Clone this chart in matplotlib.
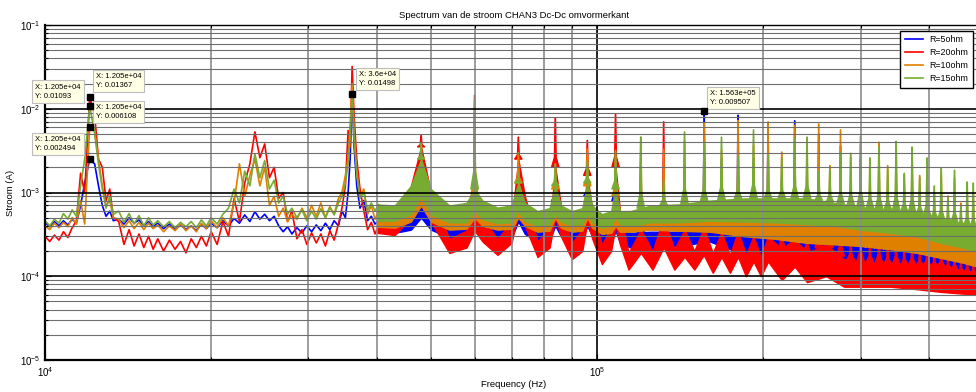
import matplotlib
matplotlib.use("Agg")
import matplotlib.pyplot as plt
from matplotlib.lines import Line2D
from matplotlib.ticker import LogLocator, NullFormatter
import numpy as np

plt.rcParams['font.family'] = ['Liberation Sans', 'DejaVu Sans']

# ---- spectrum below 40 kHz, sample by sample (kHz, A) ----
trace_khz = [10.0, 10.2, 10.4, 10.6, 10.8, 11.0, 11.2, 11.4, 11.6, 11.8,
             12.05, 12.3, 12.5, 12.7, 12.9, 13.1, 13.3,
             13.6, 13.9, 14.2, 14.5, 14.8, 15.1, 15.4, 15.7,
             16.0, 16.4, 16.8, 17.2, 17.6, 18.0, 18.4, 18.8, 19.2, 19.6,
             20.0, 20.5, 21.0, 21.5, 22.0, 22.5, 23.0, 23.5, 24.0, 24.5, 25.0, 25.5,
             26.0, 26.5, 27.0, 27.5, 28.0,
             28.6, 29.2, 29.8, 30.4, 31.0, 31.6, 32.2, 32.8, 33.4, 34.0,
             34.5, 35.0, 35.4, 35.7, 36.0, 36.3, 36.7, 37.2, 37.8, 38.4, 39.0, 39.6, 40.2]

blue_trace = [4.4e-4, 3.9e-4, 4.5e-4, 4.0e-4, 4.6e-4, 4.1e-4, 4.8e-4, 4.3e-4,
              7e-4, 1.3e-3, 2.494e-3, 2.2e-3, 1.2e-3, 7e-4, 5.2e-4, 6e-4, 4.6e-4,
              4.8e-4, 4.2e-4, 5.0e-4, 4.3e-4, 4.7e-4, 4.0e-4, 4.5e-4, 3.9e-4,
              4.3e-4, 3.7e-4, 4.2e-4, 3.6e-4, 4.1e-4, 3.6e-4, 4.0e-4, 3.5e-4, 4.2e-4, 3.7e-4,
              4.3e-4, 3.8e-4, 4.6e-4, 4.0e-4, 4.9e-4, 4.3e-4, 5.4e-4, 4.5e-4, 5.9e-4, 4.8e-4,
              5.5e-4, 4.6e-4, 5.2e-4, 4.0e-4, 3.4e-4, 3.9e-4, 3.2e-4,
              3.8e-4, 3.3e-4, 4.0e-4, 3.4e-4, 4.1e-4, 3.5e-4, 4.3e-4, 3.6e-4, 4.6e-4, 4.0e-4,
              6e-4, 5e-4, 1.0e-3, 2.5e-3, 1.498e-2, 3.5e-3, 1.2e-3, 6.5e-4, 8e-4, 4.6e-4,
              5.2e-4, 4.2e-4, 4.6e-4]

red_trace = [3.0e-4, 2.6e-4, 3.1e-4, 2.7e-4, 3.4e-4, 2.9e-4, 3.8e-4, 4.6e-4,
             1.7e-3, 1.0e-3, 1.367e-2, 8.5e-3, 2.5e-3, 2.0e-3, 8e-4, 1.1e-3, 5e-4,
             4.5e-4, 2.4e-4, 3.6e-4, 2.3e-4, 3.2e-4, 2.2e-4, 3.0e-4, 2.1e-4,
             2.8e-4, 2.0e-4, 2.7e-4, 2.1e-4, 2.6e-4, 1.9e-4, 2.8e-4, 2.2e-4, 3.0e-4, 2.3e-4,
             3.4e-4, 2.4e-4, 4.5e-4, 3.0e-4, 8.5e-4, 4.5e-4, 1.3e-3, 2.2e-3, 5.3e-3, 2.6e-3,
             3.8e-3, 1.5e-3, 2.0e-3, 8.5e-4, 1.0e-3, 4.5e-4, 6e-4,
             2.8e-4, 3.6e-4, 2.4e-4, 3.3e-4, 2.5e-4, 3.2e-4, 2.3e-4, 3.5e-4, 2.7e-4, 4.2e-4,
             6.5e-4, 1.2e-3, 5.5e-3, 3.5e-3, 3.2e-2, 8e-3, 2.5e-3, 1.1e-3, 6e-4, 3.6e-4,
             4.4e-4, 3.2e-4, 4.0e-4]

orange_trace = [4.0e-4, 3.6e-4, 4.3e-4, 3.8e-4, 4.4e-4, 3.9e-4, 5.0e-4, 4.2e-4,
                8e-4, 4.2e-4, 6.108e-3, 5.5e-3, 2.5e-3, 1.2e-3, 7e-4, 8e-4, 5e-4,
                4.8e-4, 3.8e-4, 4.6e-4, 3.7e-4, 4.4e-4, 3.6e-4, 4.3e-4, 3.7e-4,
                4.1e-4, 3.4e-4, 4.0e-4, 3.5e-4, 4.2e-4, 3.5e-4, 4.0e-4, 3.4e-4, 4.3e-4, 3.7e-4,
                4.6e-4, 3.8e-4, 5.0e-4, 4.0e-4, 7.5e-4, 2.2e-3, 9e-4, 1.6e-3, 2.5e-3, 1.2e-3,
                2.0e-3, 7e-4, 9e-4, 5.2e-4, 6.5e-4, 4.5e-4, 5.5e-4,
                4.8e-4, 6.5e-4, 5.0e-4, 7.0e-4, 5.2e-4, 7.5e-4, 5.0e-4, 6.8e-4, 5.5e-4, 8.5e-4,
                1.0e-3, 1.6e-3, 2.6e-3, 6e-3, 2.0e-2, 5e-3, 1.8e-3, 9e-4, 1.1e-3, 5.5e-4,
                7e-4, 4.8e-4, 6.0e-4]

green_trace = [4.6e-4, 4.0e-4, 4.8e-4, 4.3e-4, 5.6e-4, 4.8e-4, 6.2e-4, 5.2e-4,
               1.2e-3, 2.5e-3, 1.093e-2, 5e-3, 2.2e-3, 1.1e-3, 6.5e-4, 9e-4, 5.5e-4,
               6.0e-4, 4.4e-4, 5.6e-4, 4.2e-4, 5.3e-4, 4.0e-4, 5.0e-4, 4.1e-4,
               4.6e-4, 3.9e-4, 4.5e-4, 3.8e-4, 4.4e-4, 3.9e-4, 4.5e-4, 3.8e-4, 4.7e-4, 4.0e-4,
               5.0e-4, 4.2e-4, 5.5e-4, 6.5e-4, 1.1e-3, 7.5e-4, 1.8e-3, 1.2e-3, 2.9e-3, 1.5e-3,
               2.4e-3, 1.1e-3, 1.4e-3, 7.5e-4, 9e-4, 5.5e-4, 6.5e-4,
               5.0e-4, 6.2e-4, 4.6e-4, 6.0e-4, 4.8e-4, 6.4e-4, 5.0e-4, 6.6e-4, 5.4e-4, 7.5e-4,
               9e-4, 1.3e-3, 2.2e-3, 4.5e-3, 1.5e-2, 4.5e-3, 1.6e-3, 8.5e-4, 1.0e-3, 6.2e-4,
               7.5e-4, 6.0e-4, 7.2e-4]

# ---- 40-500 kHz: noise floor as lower / upper edge ----
band_khz = [40, 43, 46, 48, 50, 54, 58, 60, 62, 66, 70, 72, 74, 78, 82, 84, 86, 90, 94, 96,
            98, 102, 106, 108, 110, 115, 125, 140, 160, 185, 210, 240, 270, 300, 340, 380,
            420, 460, 500]

blue_lo = [3.3e-4, 3.3e-4, 3.6e-4, 5e-4, 3.6e-4, 2.9e-4, 3.0e-4, 4e-4, 3.2e-4, 2.9e-4,
           2.9e-4, 4.5e-4, 3.2e-4, 2.6e-4, 2.7e-4, 4e-4, 3e-4, 2.6e-4, 2.8e-4, 4e-4,
           3e-4, 2.4e-4, 2.5e-4, 3.5e-4, 2.5e-4, 2.2e-4, 2.1e-4, 2.3e-4, 2.6e-4, 1.8e-4,
           1.7e-4, 1.6e-4, 1.45e-4, 1.3e-4, 1.2e-4, 1.1e-4, 1.0e-4, 9.5e-5, 9e-5]
blue_hi = [4.7e-4, 4.6e-4, 7e-4, 9e-4, 6e-4, 3.9e-4, 4.2e-4, 7e-4, 5e-4, 4.1e-4,
           4.5e-4, 8e-4, 5e-4, 3.7e-4, 4.2e-4, 8e-4, 4.6e-4, 3.8e-4, 4.3e-4, 9e-4,
           4.5e-4, 3.5e-4, 3.8e-4, 8e-4, 4e-4, 3.3e-4, 3.4e-4, 3.4e-4, 4.0e-4, 3.2e-4,
           3.0e-4, 2.7e-4, 2.5e-4, 2.2e-4, 2.0e-4, 1.85e-4, 1.7e-4, 1.55e-4, 1.45e-4]

orange_lo = [3.9e-4, 3.8e-4, 4.5e-4, 7e-4, 4.5e-4, 3.6e-4, 3.7e-4, 5e-4, 4e-4, 3.6e-4,
             3.7e-4, 5e-4, 4e-4, 3.4e-4, 3.5e-4, 5e-4, 3.8e-4, 3.4e-4, 3.5e-4, 5e-4,
             3.8e-4, 3.2e-4, 3.3e-4, 4e-4, 3.4e-4, 3.4e-4, 3.6e-4, 3.5e-4, 3.4e-4, 3.0e-4,
             2.8e-4, 2.5e-4, 2.4e-4, 2.3e-4, 2.1e-4, 1.9e-4, 1.65e-4, 1.45e-4, 1.25e-4]
orange_hi = [6.2e-4, 6e-4, 1.0e-3, 1.6e-3, 8e-4, 4.9e-4, 5.5e-4, 9e-4, 6e-4, 5.2e-4,
             5.6e-4, 1.3e-3, 6e-4, 4.8e-4, 5.2e-4, 1.1e-3, 5.5e-4, 4.6e-4, 5e-4, 1.2e-3,
             5.4e-4, 4.4e-4, 4.6e-4, 9e-4, 4.6e-4, 4.5e-4, 4.8e-4, 4.9e-4, 4.8e-4, 4.5e-4,
             4.4e-4, 4.1e-4, 3.9e-4, 3.8e-4, 3.5e-4, 3.2e-4, 2.8e-4, 2.4e-4, 2.1e-4]

green_lo = [4.6e-4, 4.6e-4, 5.5e-4, 9e-4, 5.5e-4, 4.4e-4, 4.4e-4, 6e-4, 4.8e-4, 4.3e-4,
            4.4e-4, 6e-4, 4.6e-4, 4.0e-4, 4.2e-4, 5.5e-4, 4.5e-4, 4.1e-4, 4.2e-4, 5.5e-4,
            4.4e-4, 3.8e-4, 4.0e-4, 5e-4, 4.2e-4, 4.0e-4, 4.4e-4, 4.4e-4, 4.6e-4, 4.5e-4,
            4.4e-4, 4.2e-4, 4.0e-4, 3.6e-4, 3.3e-4, 3.0e-4, 2.5e-4, 2.2e-4, 1.9e-4]
green_hi = [7.2e-4, 7e-4, 1.2e-3, 2.5e-3, 1.1e-3, 7e-4, 7.5e-4, 1.1e-3, 8e-4, 6.6e-4,
            7e-4, 1.3e-3, 7.5e-4, 6e-4, 6.5e-4, 1.2e-3, 7e-4, 6e-4, 6.5e-4, 1.3e-3,
            7e-4, 5.5e-4, 6e-4, 1.1e-3, 6e-4, 6e-4, 7e-4, 7.2e-4, 8e-4, 8.5e-4,
            8.5e-4, 8.5e-4, 7.5e-4, 6.7e-4, 6.2e-4, 5.6e-4, 4.6e-4, 4.0e-4, 3.4e-4]

red_band_khz = [40, 43, 46, 48, 50, 54, 58, 60, 62, 66, 70, 72, 74, 78, 82, 84, 86, 90, 94, 96,
                98, 102, 106, 108, 110, 114, 120, 126, 132, 138, 144, 150, 156, 162, 168, 174,
                180, 186, 192, 198, 204, 216, 228, 240, 260, 280, 300, 340, 380, 420, 460, 500]
red_lo = [3.3e-4, 3.1e-4, 5e-4, 1.2e-3, 4.5e-4, 1.9e-4, 2.2e-4, 3.5e-4, 2.6e-4, 1.8e-4,
          2.5e-4, 6e-4, 4e-4, 1.7e-4, 2.2e-4, 5e-4, 3e-4, 1.6e-4, 2.0e-4, 4.5e-4,
          2.8e-4, 1.4e-4, 2.0e-4, 4e-4, 2.4e-4, 1.2e-4, 1.9e-4, 1.2e-4, 2.2e-4, 1.2e-4,
          1.7e-4, 1.2e-4, 1.8e-4, 1.1e-4, 1.7e-4, 1.1e-4, 1.7e-4, 1.0e-4, 1.5e-4, 1.0e-4,
          1.5e-4, 9e-5, 1.3e-4, 8.5e-5, 1.0e-4, 7.5e-5, 7.5e-5, 7.5e-5, 7e-5, 6.5e-5,
          6.2e-5, 6e-5]
red_hi = [4.7e-4, 5e-4, 1.2e-3, 3.5e-3, 1.0e-3, 2.8e-4, 3.5e-4, 6e-4, 5e-4, 2.8e-4,
          4.5e-4, 2.5e-3, 9e-4, 2.6e-4, 3.8e-4, 2e-3, 7e-4, 2.5e-4, 3.6e-4, 1.6e-3,
          6e-4, 2.4e-4, 3.8e-4, 2e-3, 6e-4, 1.9e-4, 3.6e-4, 2.0e-4, 5e-4, 2.1e-4,
          3.6e-4, 2.0e-4, 3.8e-4, 1.9e-4, 3.4e-4, 1.8e-4, 3.5e-4, 1.8e-4, 3.0e-4, 1.7e-4,
          3.0e-4, 2.1e-4, 2.8e-4, 1.9e-4, 2.4e-4, 1.6e-4, 1.5e-4, 1.4e-4, 1.35e-4, 1.3e-4,
          1.1e-4, 1.0e-4]

# ---- switching harmonics (peak amplitude per series) ----
harm_khz = [48, 60, 72, 84, 96, 108, 120, 132, 144, 156.3, 168, 180, 192, 204, 216, 228,
            240, 252, 264, 276, 288, 300, 312, 324, 336, 348, 360, 372, 384, 396, 408, 420,
            432, 444, 456, 468, 480]

blue_peak = [1.2e-3, 3.5e-3, 1.2e-3, 1.5e-3, 1.8e-3, 2.5e-3, 2.0e-3, 2.5e-3, 2.0e-3, 9.507e-3,
             2.5e-3, 8.4e-3, 2.5e-3, 5.5e-3, 1.5e-3, 7.2e-3, 1.8e-3, 5e-3, 1.2e-3, 3.6e-3,
             1.2e-3, 2.5e-3, 1.0e-3, 2.5e-3, 9e-4, 2e-3, 8e-4, 1.6e-3, 7e-4, 1.3e-3,
             6e-4, 1.0e-3, 5e-4, 9e-4, 4.5e-4, 7e-4, 6e-4]
red_peak = [4.8e-3, 1.45e-2, 4.6e-3, 7.8e-3, 4.2e-3, 8.6e-3, 3.0e-3, 7.0e-3, 1.5e-3, 2.5e-3,
            1.2e-3, 2.0e-3, 1.0e-3, 1.5e-3, 8e-4, 1.2e-3, 6e-4, 9e-4, 5e-4, 8e-4,
            4e-4, 6e-4, 3.5e-4, 5e-4, 3e-4, 4e-4, 2.8e-4, 3.5e-4, 2.5e-4, 3e-4,
            2.2e-4, 2.8e-4, 2e-4, 2.5e-4, 1.8e-4, 2.2e-4, 1.8e-4]
orange_peak = [2.0e-3, 9e-3, 3e-3, 2.2e-3, 3.3e-3, 3e-3, 4.6e-3, 3.3e-3, 4.2e-3, 6.8e-3,
               3.2e-3, 7.3e-3, 3.7e-3, 7e-3, 3.05e-3, 6.4e-3, 3e-3, 6.6e-3, 2.1e-3, 5.6e-3,
               2.6e-3, 3.8e-3, 1.6e-3, 4e-3, 2.1e-3, 3.3e-3, 1.6e-3, 2.8e-3, 1.6e-3, 2.0e-3,
               1.0e-3, 1.6e-3, 9.1e-4, 1.5e-3, 7.5e-4, 1.1e-3, 1.0e-3]
green_peak = [3.9e-3, 1.27e-2, 1.7e-3, 2.2e-3, 2.4e-3, 3.2e-3, 4.6e-3, 1.4e-3, 5.3e-3, 3.9e-3,
              4.6e-3, 2.7e-3, 5.6e-3, 2.8e-3, 2.6e-3, 4.5e-3, 4.6e-3, 1.8e-3, 1.9e-3, 3.0e-3,
              2.95e-3, 4.7e-3, 2.6e-3, 3.5e-3, 1.9e-3, 4.1e-3, 1.7e-3, 3.5e-3, 1.5e-3, 2.6e-3,
              1.2e-3, 1.97e-3, 8.5e-4, 1.85e-3, 7e-4, 1.34e-3, 1.3e-3]

labels = ["R=5ohm", "R=20ohm", "R=10ohm", "R=15ohm"]
order = ["blue", "red", "orange", "green"]
colors = {"blue": "#0000ff", "red": "#ff0000", "orange": "#e08000", "green": "#77ac30"}

series = {
    "blue":   dict(trace=blue_trace, fb=band_khz, lo=blue_lo, hi=blue_hi, peak=blue_peak),
    "red":    dict(trace=red_trace, fb=red_band_khz, lo=red_lo, hi=red_hi, peak=red_peak),
    "orange": dict(trace=orange_trace, fb=band_khz, lo=orange_lo, hi=orange_hi, peak=orange_peak),
    "green":  dict(trace=green_trace, fb=band_khz, lo=green_lo, hi=green_hi, peak=green_peak),
}

# data tips (series, frequency in kHz)
tips = [("red", 12.05), ("green", 12.05), ("orange", 12.05), ("blue", 12.05),
        ("blue", 36.0), ("blue", 156.3)]
tip_offsets = [(6, 8, "left"), (-9, 6, "right"), (6, 7, "left"), (-9, 7, "right"),
               (7, 7, "left"), (6, 5, "left")]


def tip_value(name, fk):
    s = series[name]
    if fk in trace_khz:
        return s["trace"][trace_khz.index(fk)]
    return s["peak"][harm_khz.index(fk)]


def spike(ax, f, base, peak, color, z):
    # narrow resonance line with a small skirt at its foot
    skirt = base * (peak / base) ** 0.2
    xs = [f / 1.016, f / 1.004, f / 1.001, f * 1.001, f * 1.004, f * 1.016]
    ys = [base, skirt, peak, peak, skirt, base]
    ax.fill(xs, ys, color=color, lw=0.9, zorder=z)


fig = plt.figure(figsize=(9.76, 3.92), dpi=100)
ax = fig.add_axes([45 / 976, 32 / 392, 938 / 976, 335 / 392])
ax.set_xscale("log")
ax.set_yscale("log")

f_tr = np.array(trace_khz) * 1e3
f_h = np.array(harm_khz) * 1e3
for i, name in enumerate(order):
    s = series[name]
    c = colors[name]
    z = 1.0 + 0.3 * i
    ax.plot(f_tr, s["trace"], color=c, lw=1.2, zorder=z)
    fb = np.array(s["fb"]) * 1e3
    ax.fill_between(fb, s["lo"], s["hi"], color=c, lw=1.0, zorder=z)
    # spikes start from the top of the noise floor
    base = 10 ** np.interp(np.log10(f_h), np.log10(fb), np.log10(s["hi"]))
    for f, b, p in zip(f_h, base, s["peak"]):
        spike(ax, f, b, p, c, z + 0.1)

ax.set_xlim(1e4, 5e5)
ax.set_ylim(1e-5, 1e-1)

ax.xaxis.set_minor_locator(LogLocator(base=10, subs=np.arange(2, 10)))
ax.yaxis.set_minor_locator(LogLocator(base=10, subs=np.arange(2, 10)))
ax.xaxis.set_minor_formatter(NullFormatter())
ax.yaxis.set_minor_formatter(NullFormatter())

ax.grid(True, which="major", color="k", lw=1.2)
ax.yaxis.grid(True, which="minor", color="#6e6e6e", lw=0.8)
ax.xaxis.grid(True, which="minor", color="#8c8c8c", lw=1.2)
ax.set_axisbelow(False)

ax.tick_params(which="both", direction="in", top=True, right=True, labelsize=7, width=0.8)
ax.tick_params(which="major", length=4)
ax.tick_params(which="minor", length=2)
for side in ["left", "bottom"]:
    ax.spines[side].set_linewidth(1.6)
for side in ["top", "right"]:
    ax.spines[side].set_linewidth(1.0)

ax.set_title("Spectrum van de stroom CHAN3 Dc-Dc omvormerkant", fontsize=6.8, pad=5)
ax.set_xlabel("Frequency (Hz)", fontsize=6.8, labelpad=1)
ax.set_ylabel("Stroom (A)", fontsize=6.8, labelpad=3)

for (name, fk), (dx, dy, ha) in zip(tips, tip_offsets):
    x = fk * 1e3
    y = tip_value(name, fk)
    ax.plot(x, y, "s", color="k", ms=4, zorder=7)
    ax.annotate(f"X: {x:.4g}\nY: {y:.4g}", xy=(x, y), xytext=(dx, dy),
                textcoords="offset pixels", ha=ha, va="bottom", multialignment="left",
                fontsize=5.5, linespacing=1.4, zorder=6,
                bbox=dict(boxstyle="square,pad=0.4", fc="#ffffe6", ec="#bdbdbd", lw=0.8))

handles = [Line2D([], [], color=colors[n], lw=1.2) for n in order]
leg = ax.legend(handles, labels, loc="upper right", bbox_to_anchor=(973 / 976, 361 / 392),
                bbox_transform=fig.transFigure, fontsize=6.4, fancybox=False,
                edgecolor="k", framealpha=1, borderaxespad=0, handlelength=2.0,
                handletextpad=0.8, labelspacing=0.45, borderpad=0.5)
leg.get_frame().set_linewidth(1.0)
leg.set_zorder(8)

fig.savefig("out.png", dpi=100)
